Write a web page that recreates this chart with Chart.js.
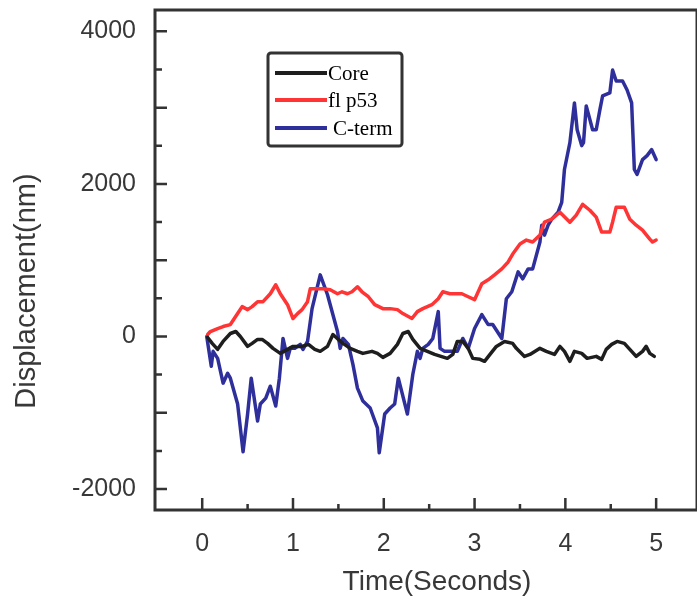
<!DOCTYPE html>
<html>
<head>
<meta charset="utf-8">
<script src="https://cdn.jsdelivr.net/npm/chart.js@4.4.1/dist/chart.umd.min.js"></script>
<style>
  html, body { margin: 0; padding: 0; background: #fff; }
  #chart { display: block; }
</style>
</head>
<body>
<canvas id="chart" width="697" height="601" style="width:697px;height:601px"></canvas>
<script>
const seriesNames = ['Core', 'fl p53', 'C-term'];

const coreTime = [
  0.06, 0.11, 0.17, 0.23, 0.31, 0.37, 0.42, 0.50, 0.55, 0.61,
  0.66, 0.72, 0.78, 0.86, 0.94, 1.00, 1.10, 1.17, 1.24, 1.30,
  1.38, 1.44, 1.50, 1.55, 1.63, 1.71, 1.77, 1.87, 1.93, 1.99,
  2.07, 2.15, 2.21, 2.27, 2.32, 2.40, 2.48, 2.56, 2.70, 2.76,
  2.81, 2.87, 2.93, 2.98, 3.06, 3.11, 3.17, 3.24, 3.33, 3.42,
  3.46, 3.55, 3.61, 3.72, 3.79, 3.88, 3.94, 3.99, 4.05, 4.10,
  4.18, 4.24, 4.34, 4.40, 4.45, 4.51, 4.57, 4.65, 4.71, 4.78,
  4.85, 4.89, 4.93, 4.98
];
const coreValues = [
  -13, -91, -169, -65, 39, 65, 0, -130, -91, -39,
  -39, -91, -156, -222, -169, -130, -130, -104, -169, -195,
  -130, 26, -39, -91, -156, -195, -222, -195, -222, -274,
  -222, -104, 39, 65, -39, -156, -195, -235, -287, -235,
  -65, -65, -156, -287, -300, -326, -235, -130, -65, -91,
  -156, -261, -235, -156, -195, -235, -130, -195, -326, -195,
  -222, -287, -261, -300, -169, -104, -65, -91, -169, -261,
  -195, -130, -222, -261
];

const flTime = [
  0.06, 0.09, 0.17, 0.23, 0.31, 0.39, 0.44, 0.50, 0.55, 0.61,
  0.67, 0.75, 0.81, 0.86, 0.94, 1.00, 1.05, 1.10, 1.16, 1.19,
  1.27, 1.33, 1.41, 1.49, 1.54, 1.60, 1.65, 1.71, 1.76, 1.83,
  1.90, 1.99, 2.07, 2.15, 2.21, 2.31, 2.37, 2.43, 2.53, 2.60,
  2.65, 2.73, 2.86, 2.93, 3.00, 3.08, 3.15, 3.22, 3.30, 3.37,
  3.42, 3.50, 3.57, 3.64, 3.72, 3.77, 3.85, 3.94, 4.05, 4.12,
  4.19, 4.27, 4.34, 4.40, 4.49, 4.52, 4.56, 4.65, 4.71, 4.78,
  4.85, 4.93, 4.96, 5.00
];
const flValues = [
  26, 65, 104, 130, 156, 300, 391, 352, 391, 456,
  456, 560, 678, 560, 417, 235, 300, 352, 456, 625,
  625, 625, 612, 560, 586, 560, 586, 652, 586, 521,
  417, 365, 365, 352, 300, 235, 326, 365, 417, 495,
  586, 560, 560, 521, 482, 691, 743, 808, 886, 977,
  1081, 1212, 1264, 1238, 1329, 1498, 1538, 1629, 1498, 1590,
  1733, 1655, 1564, 1368, 1368, 1498, 1694, 1694, 1538, 1459,
  1394, 1277, 1238, 1264
];

const ctermTime = [
  0.05, 0.10, 0.12, 0.17, 0.23, 0.28, 0.31, 0.39, 0.45, 0.50,
  0.54, 0.61, 0.64, 0.70, 0.75, 0.81, 0.85, 0.89, 0.94, 0.97,
  1.02, 1.08, 1.11, 1.16, 1.21, 1.30, 1.38, 1.49, 1.52, 1.55,
  1.61, 1.66, 1.71, 1.77, 1.85, 1.93, 1.95, 2.01, 2.07, 2.12,
  2.16, 2.26, 2.32, 2.37, 2.40, 2.43, 2.49, 2.54, 2.60, 2.62,
  2.67, 2.73, 2.81, 2.87, 2.93, 3.00, 3.08, 3.15, 3.20, 3.30,
  3.35, 3.41, 3.48, 3.53, 3.59, 3.64, 3.72, 3.74, 3.77, 3.81,
  3.85, 3.92, 3.96, 3.99, 4.05, 4.10, 4.13, 4.18, 4.20, 4.23,
  4.30, 4.34, 4.38, 4.41, 4.49, 4.52, 4.56, 4.63, 4.68, 4.73,
  4.76, 4.79, 4.85, 4.90, 4.95, 5.00
];
const ctermValues = [
  0, -391, -195, -287, -612, -482, -547, -886, -1511, -1016,
  -547, -1108, -886, -808, -652, -912, -547, -26, -287, -156,
  -156, -104, -169, -65, 365, 808, 547, 65, -156, -26,
  -104, -365, -678, -847, -938, -1199, -1525, -1016, -938, -886,
  -547, -1016, -495, -195, -287, -156, -104, -26, 326, -156,
  -195, -195, -195, -26, -156, 104, 287, 156, 156, -26,
  495, 586, 847, 756, 886, 886, 1238, 1459, 1329, 1459,
  1538, 1629, 1759, 2189, 2541, 3062, 2710, 2502, 2541, 3023,
  2710, 2710, 2971, 3153, 3192, 3492, 3349, 3349, 3231, 3062,
  2189, 2124, 2319, 2371, 2450, 2319
];

const xTickLabels = [0, 1, 2, 3, 4, 5];
const xMinorTicks = [0.5, 1.5, 2.5, 3.5, 4.5];
const yTickLabels = [-2000, 0, 2000, 4000];
const yMajorTicks = [-2000, -1000, 0, 1000, 2000, 3000, 4000];
const yMinorTicks = [-1500, -500, 500, 1500, 2500, 3500];
const xTitle = 'Time(Seconds)';
const yTitle = 'Displacement(nm)';

const lineColors = ['#1e1e1e', '#ff3434', '#2f2f9c'];
const times = [coreTime, flTime, ctermTime];
const values = [coreValues, flValues, ctermValues];

const toPoints = (t, v) => t.map((x, i) => ({ x: x, y: v[i] }));

const datasets = seriesNames.map((name, i) => ({
  label: name,
  data: toPoints(times[i], values[i]),
  borderColor: lineColors[i],
  backgroundColor: lineColors[i],
  borderWidth: 3.5,
  pointRadius: 0,
  tension: 0,
  borderJoinStyle: 'round',
  borderCapStyle: 'round'
}));

const axisColor = '#333';
const textColor = '#383838';
const sans = '"Liberation Sans", Arial, sans-serif';

// frame, inward ticks, axis titles and the boxed legend
const framePlugin = {
  id: 'frame',
  afterDraw(chart) {
    const { ctx, chartArea: a, scales: { x, y } } = chart;
    ctx.save();
    ctx.strokeStyle = axisColor;
    ctx.lineWidth = 3;
    ctx.strokeRect(a.left, a.top, a.right - a.left, a.bottom - a.top);

    ctx.lineWidth = 2.5;
    ctx.beginPath();
    xTickLabels.forEach(v => {
      const px = x.getPixelForValue(v);
      ctx.moveTo(px, a.bottom); ctx.lineTo(px, a.bottom - 12);
    });
    xMinorTicks.forEach(v => {
      const px = x.getPixelForValue(v);
      ctx.moveTo(px, a.bottom); ctx.lineTo(px, a.bottom - 6);
    });
    yMajorTicks.forEach(v => {
      const py = y.getPixelForValue(v);
      ctx.moveTo(a.left, py); ctx.lineTo(a.left + 12, py);
    });
    yMinorTicks.forEach(v => {
      const py = y.getPixelForValue(v);
      ctx.moveTo(a.left, py); ctx.lineTo(a.left + 7, py);
    });
    ctx.stroke();

    // axis titles (they sit off-centre in the source)
    ctx.fillStyle = textColor;
    ctx.textAlign = 'center';
    ctx.textBaseline = 'middle';
    ctx.font = '28px ' + sans;
    ctx.fillText(xTitle, 437, 582);
    ctx.save();
    ctx.translate(27, 291);
    ctx.rotate(-Math.PI / 2);
    ctx.font = '29px ' + sans;
    ctx.fillText(yTitle, 0, 0);
    ctx.restore();

    // legend box
    const bx = 268, by = 53, bw = 134, bh = 93;
    ctx.strokeStyle = axisColor;
    ctx.lineWidth = 3;
    ctx.beginPath();
    ctx.roundRect(bx, by, bw, bh, 3);
    ctx.fillStyle = '#fff';
    ctx.fill();
    ctx.stroke();

    const rows = [73, 100, 128];
    const textShift = [0, 0, 5];
    ctx.font = '21px "Liberation Serif", "Times New Roman", serif';
    ctx.textBaseline = 'middle';
    ctx.textAlign = 'left';
    chart.data.datasets.forEach((ds, i) => {
      ctx.strokeStyle = ds.borderColor;
      ctx.lineWidth = 4;
      ctx.beginPath();
      ctx.moveTo(bx + 7, rows[i]);
      ctx.lineTo(bx + 59, rows[i]);
      ctx.stroke();
      ctx.fillStyle = '#000';
      ctx.fillText(ds.label, bx + 60 + textShift[i], rows[i] + 1);
    });
    ctx.restore();
  }
};

new Chart(document.getElementById('chart'), {
  type: 'line',
  data: { datasets: datasets },
  plugins: [framePlugin],
  options: {
    responsive: false,
    animation: false,
    layout: { padding: { top: 10, right: 0, left: 0, bottom: 0 } },
    plugins: {
      legend: { display: false },
      tooltip: { enabled: false }
    },
    scales: {
      x: {
        type: 'linear',
        min: -0.52,
        max: 5.45,
        afterFit: s => { s.height = 91; s.paddingLeft = 0; s.paddingRight = 0; },
        afterBuildTicks: s => { s.ticks = xTickLabels.map(v => ({ value: v })); },
        grid: { display: false, drawTicks: false },
        border: { display: false },
        ticks: {
          padding: 19,
          color: textColor,
          font: { family: sans, size: 25 },
          callback: v => String(v)
        }
      },
      y: {
        type: 'linear',
        min: -2275,
        max: 4280,
        afterFit: s => { s.width = 155; s.paddingTop = 0; s.paddingBottom = 0; },
        afterBuildTicks: s => { s.ticks = yTickLabels.map(v => ({ value: v })); },
        grid: { display: false, drawTicks: false },
        border: { display: false },
        ticks: {
          padding: 19,
          color: textColor,
          font: { family: sans, size: 25 },
          callback: v => String(v)
        }
      }
    }
  }
});
</script>
</body>
</html>
